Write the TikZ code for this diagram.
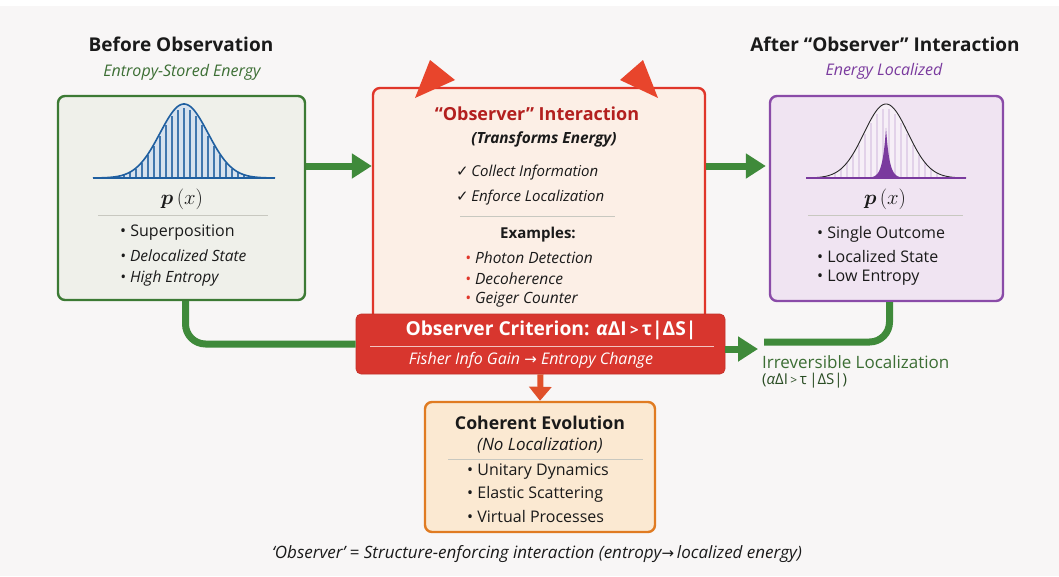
\documentclass[tikz,border=0pt]{standalone}
\usepackage{fontspec}
\setmainfont{Open Sans}
\newfontfamily\dejavu{DejaVu Sans}
\usetikzlibrary{arrows.meta,calc}
\definecolor{bgc}{HTML}{F8F6F6}
\definecolor{gborder}{HTML}{3C7A34}
\definecolor{gfill}{HTML}{EFF0EA}
\definecolor{garr}{HTML}{3F8A3A}
\definecolor{gtext}{HTML}{3C6E34}
\definecolor{rborder}{HTML}{E0362A}
\definecolor{rfill}{HTML}{FCEFE6}
\definecolor{rtext}{HTML}{B3201F}
\definecolor{critfill}{HTML}{D8362E}
\definecolor{tri}{HTML}{E8452C}
\definecolor{oarr}{HTML}{E0502A}
\definecolor{oborder}{HTML}{E07B22}
\definecolor{ofill}{HTML}{FBE9D2}
\definecolor{pborder}{HTML}{8A4BA8}
\definecolor{pfill}{HTML}{F0E4F2}
\definecolor{ptext}{HTML}{7A3A9E}
\definecolor{bluec}{HTML}{1F5FA0}
\definecolor{sepc}{HTML}{C8C8C0}
\definecolor{txt}{HTML}{1A1A1A}
\newcommand{\smallgt}[1]{{\fontsize{#1}{#1}\selectfont >}}
\newcommand{\rarrow}[1]{{\dejavu\upshape\fontsize{#1}{#1}\selectfont →}}
\tikzset{
  panel/.style={draw, line width=2.4pt, rounded corners=7pt, inner sep=0pt},
  heading/.style={font=\fontsize{19}{22}\selectfont\bfseries, text=txt},
  subhead/.style={font=\fontsize{16}{19}\selectfont\itshape},
  item/.style={font=\fontsize{16}{19}\selectfont, text=txt, anchor=west, inner sep=0pt},
  itemit/.style={item, font=\fontsize{15.5}{19}\selectfont\itshape},
  garrowstyle/.style={draw=garr, line width=7pt, -{Triangle[length=20pt,width=24pt]}},
  glinestyle/.style={draw=garr, line width=7pt, rounded corners=20pt},
  sepline/.style={draw=sepc, line width=0.8pt},
}
\begin{document}
\begin{tikzpicture}[x=1pt,y=-1pt]
\useasboundingbox (0,0) rectangle (1059,576);
\fill[bgc] (0,0) rectangle (1059,576);
\fill[white] (0,0) rectangle (1059,6);

% ---------- panels ----------
\node[panel, draw=gborder, fill=gfill, minimum width=247pt, minimum height=204pt] (left) at (181.5,198) {};
\node[panel, draw=rborder, fill=rfill, minimum width=332pt, minimum height=240pt] (mid) at (539,208) {};
\node[panel, draw=pborder, fill=pfill, minimum width=233pt, minimum height=205pt] (right) at (886.5,198.5) {};
\node[panel, draw=oborder, fill=ofill, minimum width=230pt, minimum height=130pt] (coh) at (540,467) {};

% ---------- top triangles ----------
\fill[tri] (430,60) -- (455,80) -- (415,98) -- cycle;
\fill[tri] (643,60) -- (620,80) -- (658,98) -- cycle;

% ---------- headings ----------
\node[heading] (h1) at (181,44) {Before Observation};
\node[subhead, text=gtext] (s1) at (182,72) {Entropy-Stored Energy};
\node[heading] (h2) at (885,44) {After “Observer” Interaction};
\node[subhead, text=ptext] (s2) at (884,71) {Energy Localized};

% ---------- left curve ----------
\fill[bluec!18] plot[domain=-91:91, samples=120] ({184+\x},{178-74*exp(-(\x)^2/1152)}) -- cycle;
\foreach \i in {-84,-78,...,84}{
  \draw[bluec!85, line width=1.5pt] ({184+\i},178) -- ({184+\i},{178-70*exp(-(\i)^2/1152)});
}
\draw[bluec, line width=1.6pt] plot[domain=-91:91, samples=120] ({184+\x},{178-74*exp(-(\x)^2/1152)});
\draw[bluec, line width=2.4pt] (93,178) -- (275,178);
\node[font=\fontsize{20}{22}\selectfont, text=txt] (p1) at (182,199) {{\boldmath$p$}\,$(x)$};
\draw[sepline] (98,215) -- (268,215);
\node[item] (l1) at (120,233) {\textbullet\ Superposition};
\node[itemit] (l2) at (120,256) {\textbullet\ Delocalized State};
\node[itemit] (l3) at (120,278) {\textbullet\ High Entropy};

% ---------- right curve ----------
\fill[pfill!60!white] plot[domain=-80:80, samples=120] ({886+\x},{178-74*exp(-(\x)^2/968)}) -- cycle;
\foreach \i in {-75,-69,...,75}{
  \draw[pborder!25, line width=1.4pt] ({886+\i},178) -- ({886+\i},{178-70*exp(-(\i)^2/968)});
}
\draw[black!85, line width=0.9pt] plot[domain=-80:80, samples=120] ({886+\x},{178-74*exp(-(\x)^2/968)});
\fill[ptext] plot[domain=-14:14, samples=81] ({886+\x},{178-50*exp(-abs(\x)/3.5)}) -- cycle;
\draw[ptext, line width=2.4pt] (806,178) -- (966,178);
\node[font=\fontsize{20}{22}\selectfont, text=txt] (p2) at (885,199) {{\boldmath$p$}\,$(x)$};
\draw[sepline] (808,215) -- (963,215);
\node[item] (r1) at (817,234) {\textbullet\ Single Outcome};
\node[item] (r2) at (817,256) {\textbullet\ Localized State};
\node[item] (r3) at (817,278) {\textbullet\ Low Entropy};

% ---------- middle text ----------
\node[font=\fontsize{18}{21}\selectfont\bfseries, text=rtext] (mt) at (537,114) {“Observer” Interaction};
\node[font=\fontsize{15.4}{18}\selectfont\bfseries\itshape, text=txt] (ms) at (544,139) {(Transforms Energy)};
\node[itemit, font=\fontsize{15}{18}\selectfont\itshape] (c1) at (456,173) {{\dejavu\upshape ✓}\,Collect Information};
\node[itemit, font=\fontsize{15}{18}\selectfont\itshape] (c2) at (456,198) {{\dejavu\upshape ✓}\,Enforce Localization};
\draw[sepline] (460,216) -- (615,216);
\node[font=\fontsize{15}{18}\selectfont\bfseries, text=txt] (ex) at (538,235) {Examples:};
\node[itemit] (e1) at (465,258) {\textcolor{rborder}{\textbullet}\ Photon Detection};
\node[itemit] (e2) at (465,279) {\textcolor{rborder}{\textbullet}\ Decoherence};
\node[itemit] (e3) at (465,300) {\textcolor{rborder}{\textbullet}\ Geiger Counter};

% ---------- criterion bar ----------
\node[draw=critfill!90!black, line width=0.6pt, fill=critfill, rounded corners=5pt, minimum width=369pt, minimum height=60pt, inner sep=0pt] (crit) at (540.5,344) {};
\node[font=\fontsize{19.2}{22}\selectfont\bfseries, text=white] (ct) at (551,330) {Observer Criterion: \textit{α}ΔI\,\smallgt{15}\,τ|ΔS|};
\draw[white!70!critfill, line width=0.8pt] (370,346) -- (714,346);
\node[font=\fontsize{16}{19}\selectfont\itshape, text=white] (cs) at (531,360) {Fisher Info Gain \rarrow{15} Entropy Change};

% ---------- coherent text ----------
\node[font=\fontsize{17.7}{20}\selectfont\bfseries, text=txt] (cht) at (540,423) {Coherent Evolution};
\node[font=\fontsize{17}{20}\selectfont\itshape, text=txt] (chs) at (540,445) {(No Localization)};
\draw[sepline] (448,459) -- (643,459);
\node[item] (o1) at (467,472) {\textbullet\ Unitary Dynamics};
\node[item] (o2) at (467,494) {\textbullet\ Elastic Scattering};
\node[item] (o3) at (467,516) {\textbullet\ Virtual Processes};

% ---------- connectors ----------
\coordinate (ya) at (0,166);
\draw[garrowstyle] (left.east |- ya) -- (mid.west |- ya);
\draw[garrowstyle] (mid.east |- ya) -- ([xshift=-3pt]right.west |- ya);
\draw[glinestyle] ([xshift=4pt]left.south) |- (crit.west);
\coordinate (irr) at (758,349);
\draw[garrowstyle] (crit.east |- irr) -- (irr);
\coordinate (rend) at (764,342);
\draw[glinestyle] ([xshift=3pt]right.south) |- (rend);
\draw[oarr, line width=6pt, -{Triangle[length=14pt,width=22pt]}] (crit.south) -- (coh.north);

\node[anchor=west, inner sep=0pt, font=\fontsize{17}{20}\selectfont, text=gtext] (il) at (762,362) {Irreversible Localization};
\node[anchor=west, inner sep=0pt, font=\fontsize{15}{18}\selectfont, text=gtext!70!black] (il2) at (762,381) {(\textit{α}ΔI\,\smallgt{12}\,τ\,|ΔS|)};

% ---------- footer ----------
\node[font=\fontsize{17}{20}\selectfont\itshape, text=txt] (foot) at (537,554) {‘Observer’ {\upshape =} Structure-enforcing interaction (entropy\rarrow{15}\,localized energy)};
\end{tikzpicture}
\end{document}
